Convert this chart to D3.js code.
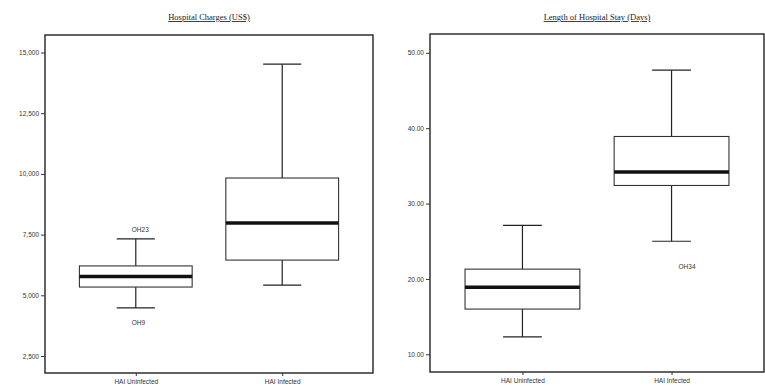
<!DOCTYPE html>
<html>
<head>
<meta charset="utf-8">
<script src="https://cdn.jsdelivr.net/npm/d3@7"></script>
<style>
  body { margin: 0; background: #fff; }
  .tick text { font-family: "Liberation Sans", Arial, sans-serif; font-size: 6.5px; fill: #333; }
  .tick line { stroke: #333; }
</style>
</head>
<body>
<div id="chart"></div>
<script>
// categories
var groups = ["HAI Uninfected", "HAI Infected"];

// hospital charges: [lower whisker, q1, median, q3, upper whisker]
var chargeStats = [
  [4480, 5340, 5770, 6210, 7320],
  [5420, 6450, 7980, 9830, 14520]
];
var chargeOutliers = [
  { group: "HAI Uninfected", value: 7690, label: "OH23" },
  { group: "HAI Uninfected", value: 3860, label: "OH9" }
];
var chargeTicks = [2500, 5000, 7500, 10000, 12500, 15000];

// length of stay: [lower whisker, q1, median, q3, upper whisker]
var stayStats = [
  [12.3, 16.0, 18.9, 21.3, 27.1],
  [25.0, 32.4, 34.2, 38.9, 47.7]
];
var stayOutliers = [
  { group: "HAI Infected", value: 21.6, label: "OH34" }
];
var stayTicks = [10, 20, 30, 40, 50];

var svg = d3.select("#chart")
  .append("svg")
  .attr("width", 765)
  .attr("height", 388);

var panels = [
  { title: "Hospital Charges (US$)", stats: chargeStats, outliers: chargeOutliers,
    ticks: chargeTicks, format: d3.format(",.0f"),
    domain: [1800, 15720], x0: 45, x1: 373, top: 35, bottom: 373, labelDx: -4 },
  { title: "Length of Hospital Stay (Days)", stats: stayStats, outliers: stayOutliers,
    ticks: stayTicks, format: d3.format(".2f"),
    domain: [7.65, 52.5], x0: 430, x1: 764, top: 34, bottom: 372, labelDx: 7 }
];

panels.forEach(function(p) {
  var x = d3.scalePoint().domain(groups).range([p.x0, p.x1]).padding(0.62);
  var y = d3.scaleLinear().domain(p.domain).range([p.bottom, p.top]);
  var step = x.step();
  var boxW = step * 0.77, capW = step * 0.26;

  var g = svg.append("g");

  // title
  g.append("text")
    .attr("x", (p.x0 + p.x1) / 2)
    .attr("y", 20)
    .attr("text-anchor", "middle")
    .attr("text-decoration", "underline")
    .style("font-family", "'Liberation Serif', 'Times New Roman', serif")
    .style("font-size", "8.5px")
    .style("fill", "#222")
    .text(p.title);

  // frame
  g.append("rect")
    .attr("x", p.x0).attr("y", p.top)
    .attr("width", p.x1 - p.x0).attr("height", p.bottom - p.top)
    .attr("fill", "none").attr("stroke", "#222").attr("stroke-width", 1.4);

  // axes
  g.append("g")
    .attr("transform", "translate(" + p.x0 + ",0)")
    .call(d3.axisLeft(y).tickValues(p.ticks).tickFormat(p.format).tickSize(4).tickPadding(2))
    .call(function(a) { a.select(".domain").remove(); });

  g.append("g")
    .attr("transform", "translate(0," + p.bottom + ")")
    .call(d3.axisBottom(x).tickSize(3).tickPadding(3))
    .call(function(a) { a.select(".domain").remove(); });

  // boxes
  var box = g.selectAll(".box").data(p.stats).enter().append("g");
  box.each(function(s, i) {
    var cx = x(groups[i]);
    var b = d3.select(this);
    b.append("line")
      .attr("x1", cx).attr("x2", cx)
      .attr("y1", y(s[4])).attr("y2", y(s[0]))
      .attr("stroke", "#222").attr("stroke-width", 1.2);
    [s[0], s[4]].forEach(function(v) {
      b.append("line")
        .attr("x1", cx - capW / 2).attr("x2", cx + capW / 2)
        .attr("y1", y(v)).attr("y2", y(v))
        .attr("stroke", "#222").attr("stroke-width", 1.2);
    });
    b.append("rect")
      .attr("x", cx - boxW / 2).attr("width", boxW)
      .attr("y", y(s[3])).attr("height", y(s[1]) - y(s[3]))
      .attr("fill", "#fff").attr("stroke", "#333").attr("stroke-width", 1.1);
    b.append("line")
      .attr("x1", cx - boxW / 2).attr("x2", cx + boxW / 2)
      .attr("y1", y(s[2])).attr("y2", y(s[2]))
      .attr("stroke", "#111").attr("stroke-width", 3.5);
  });

  // outlier labels
  g.selectAll(".outlier").data(p.outliers).enter().append("text")
    .attr("x", function(d) { return x(d.group) + p.labelDx; })
    .attr("y", function(d) { return y(d.value); })
    .attr("dy", "0.35em")
    .style("font-family", "'Liberation Sans', Arial, sans-serif")
    .style("font-size", "6.5px")
    .style("fill", "#333")
    .text(function(d) { return d.label; });
});
</script>
</body>
</html>
